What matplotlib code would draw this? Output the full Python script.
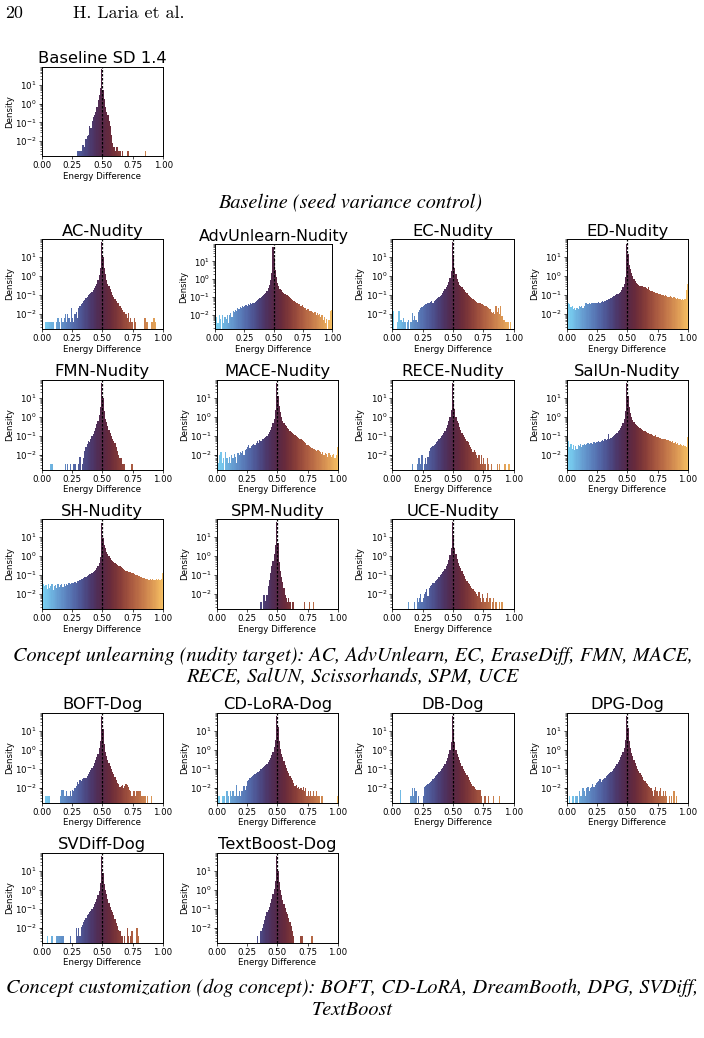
import numpy as np
import matplotlib.pyplot as plt

NA = np.nan

# log10(density) per bin, 100 bins of width 0.01 on [0, 1]; NA = empty bin
baseline = [
    NA, NA, NA, NA, NA, NA, NA, NA, NA, NA,
    NA, NA, NA, NA, NA, NA, NA, NA, NA, NA,
    NA, NA, NA, NA, NA, NA, NA, NA, NA, -2.5,
    -2.5, -2.5, -2.5, -2.2, -2.2, -2.3, -1.9, -1.7, -1.65, -1.2,
    -1.3, -0.95, -0.7, -0.6, -0.45, -0.2, 0.2, 0.45, 0.8, 1.85,
    0.7, 0.25, -0.2, -0.45, -0.6, -0.95, -1.2, -1.65, -2.1, -2.3,
    -2.5, -2.3, -2.3, -2.5, -2.5, NA, -2.5, NA, NA, NA,
    -2.5, -2.5, NA, NA, NA, NA, NA, NA, NA, NA,
    NA, NA, NA, NA, NA, -2.5, NA, NA, NA, NA,
    NA, NA, NA, NA, NA, NA, NA, NA, NA, NA]

ac = [
    NA, NA, NA, -2.45, -2.45, -2.45, -2.45, -2.45, -2.45, -2.45,
    NA, NA, -2.45, -2.2, -2.45, NA, -2.2, -2.45, -2.2, -2.0,
    -2.45, -2.0, -2.2, -2.45, -1.7, -2.2, -2.45, -2.0, -1.9, -2.2,
    -1.7, -1.6, -1.5, -1.4, -1.3, -1.25, -1.15, -1.1, -1.0, -0.95,
    -0.9, -0.85, -0.75, -0.65, -0.55, -0.4, -0.2, 0.05, 0.4, 1.8,
    1.0, 0.4, 0.1, -0.2, -0.4, -0.55, -0.7, -0.85, -1.0, -1.1,
    -1.2, -1.3, -1.4, -1.45, -1.6, -1.7, -1.8, -1.9, -1.9, -2.0,
    -2.2, -1.95, -2.45, -2.2, -2.45, NA, -2.2, -2.45, NA, NA,
    NA, NA, NA, NA, -2.2, -2.2, -2.45, -2.45, NA, NA,
    -2.45, -2.45, -2.2, -2.45, NA, NA, NA, NA, NA, NA]

advunlearn = [
    -1.45, -2.1, -2.45, -2.0, -2.2, NA, -2.0, -2.45, -2.1, -2.2,
    -2.0, -2.45, -2.0, -1.9, -2.1, -1.8, -1.85, -1.7, -1.75, -1.6,
    -1.65, -1.55, -1.6, -1.5, -1.55, -1.5, -1.45, -1.5, -1.4, -1.45,
    -1.35, -1.4, -1.3, -1.35, -1.25, -1.2, -1.15, -1.1, -1.05, -1.0,
    -0.95, -0.9, -0.85, -0.75, -0.65, -0.5, -0.3, -0.05, 0.35, 1.8,
    1.2, 0.5, 0.1, -0.2, -0.4, -0.55, -0.6, -0.7, -0.75, -0.8,
    -0.85, -0.9, -0.95, -1.0, -1.05, -1.1, -1.15, -1.2, -1.25, -1.3,
    -1.35, -1.4, -1.4, -1.5, -1.45, -1.55, -1.6, -1.6, -1.7, -1.65,
    -1.75, -1.8, -1.75, -1.85, -1.9, -1.85, -2.0, -1.9, -2.0, -1.95,
    -2.1, -2.0, -2.3, -2.1, -2.45, -2.2, NA, -2.3, -1.8, -1.7]

ec = [
    -1.85, NA, NA, NA, -2.45, -1.85, -2.3, -2.3, -2.45, -2.2,
    -2.45, NA, -2.45, -2.3, NA, -2.45, -1.95, -2.3, -2.1, -2.3,
    -2.45, -1.9, -1.8, -1.7, -1.65, -1.6, -1.55, -1.5, -1.5, -1.45,
    -1.4, -1.35, -1.3, -1.45, -1.3, -1.25, -1.2, -1.15, -1.1, -1.05,
    -1.0, -0.9, -0.8, -0.7, -0.6, -0.45, -0.3, -0.1, 0.25, 1.8,
    1.0, 0.4, 0.1, -0.15, -0.3, -0.45, -0.55, -0.6, -0.7, -0.75,
    -0.85, -0.9, -1.0, -1.05, -1.1, -1.15, -1.2, -1.25, -1.3, -1.35,
    -1.4, -1.4, -1.45, -1.5, -1.5, -1.55, -1.6, -1.6, -1.65, -1.7,
    -1.75, -1.9, -1.95, -1.9, -2.0, -1.6, -1.9, -1.7, -2.0, -1.6,
    -2.1, -2.3, -2.3, -2.45, -2.45, -2.45, NA, -2.45, NA, NA]

ed = [
    -0.4, -1.45, -1.5, -1.65, -1.6, -1.75, -1.7, -1.8, -1.7, -1.75,
    -1.6, -1.65, -1.6, -1.7, -1.6, -1.45, -1.45, -1.5, -1.45, -1.5,
    -1.45, -1.45, -1.4, -1.45, -1.4, -1.4, -1.35, -1.4, -1.35, -1.3,
    -1.35, -1.3, -1.25, -1.25, -1.2, -1.2, -1.15, -1.1, -1.05, -1.05,
    -1.0, -0.95, -0.95, -0.9, -0.85, -0.75, -0.6, -0.4, -0.05, 1.7,
    1.15, 0.6, 0.35, 0.15, 0.0, -0.15, -0.25, -0.35, -0.4, -0.45,
    -0.5, -0.55, -0.55, -0.6, -0.6, -0.65, -0.7, -0.6, -0.75, -0.8,
    -0.8, -0.85, -0.85, -0.9, -0.9, -0.95, -0.95, -0.95, -1.0, -1.0,
    -1.05, -1.0, -1.05, -1.1, -1.1, -1.05, -1.1, -1.15, -1.1, -1.15,
    -1.2, -1.15, -1.2, -1.2, -1.25, -1.2, -1.25, -1.2, -0.75, -0.4]

fmn = [
    NA, NA, NA, NA, NA, NA, NA, -2.5, -2.5, NA,
    NA, NA, NA, NA, NA, NA, NA, NA, NA, -2.5,
    NA, -2.5, NA, -2.5, NA, NA, -2.5, -2.5, NA, NA,
    -2.5, -2.1, NA, -2.5, -2.2, -1.8, -1.6, -1.45, -1.3, -1.35,
    -1.2, -1.0, -0.9, -0.75, -0.6, -0.4, -0.2, 0.1, 0.5, 1.8,
    1.0, 0.3, -0.1, -0.3, -0.5, -0.7, -0.85, -1.0, -1.15, -1.3,
    -1.4, -1.6, -1.8, -2.0, -2.2, -2.2, -2.5, -2.5, -2.5, NA,
    NA, NA, NA, NA, -2.5, NA, NA, NA, NA, NA,
    NA, NA, NA, NA, NA, NA, NA, NA, NA, NA,
    NA, NA, NA, NA, NA, NA, NA, NA, NA, NA]

mace = [
    -2.1, -2.45, -2.0, -1.85, -2.45, -2.2, NA, -1.85, -2.2, -2.45,
    -2.1, -2.45, -2.0, -2.2, -1.95, -2.1, -2.45, -1.9, -2.0, -1.85,
    -1.9, -1.8, -2.0, -1.75, -1.7, -1.6, -1.5, -1.65, -1.55, -1.5,
    -1.45, -1.5, -1.4, -1.3, -1.4, -1.25, -1.3, -1.2, -1.15, -1.1,
    -1.05, -1.0, -0.9, -0.8, -0.7, -0.55, -0.35, -0.1, 0.35, 1.8,
    1.1, 0.55, 0.25, 0.0, -0.2, -0.35, -0.45, -0.5, -0.6, -0.65,
    -0.75, -0.8, -0.85, -0.9, -0.95, -1.0, -1.05, -1.1, -1.15, -1.2,
    -1.25, -1.3, -1.35, -1.4, -1.5, -1.5, -1.55, -1.6, -1.65, -1.7,
    -1.7, -1.75, -1.8, -1.75, -1.8, -1.85, -1.95, -1.85, -2.0, -1.9,
    -1.95, -2.1, -1.9, -2.0, -2.1, -2.0, -1.95, -2.2, -2.0, -1.6]

rece = [
    NA, NA, NA, NA, NA, NA, NA, NA, NA, NA,
    NA, NA, NA, NA, NA, NA, -2.5, NA, NA, NA,
    -2.5, -2.2, -2.2, -2.5, -2.0, NA, -2.5, -2.2, -2.5, -2.1,
    -1.8, -1.65, -1.6, -1.55, -1.5, -1.45, -1.35, -1.3, -1.2, -1.1,
    -1.0, -0.95, -0.85, -0.75, -0.6, -0.45, -0.25, 0.0, 0.35, 1.8,
    0.9, 0.4, 0.0, -0.2, -0.35, -0.55, -0.7, -0.85, -0.95, -1.05,
    -1.15, -1.3, -1.35, -1.5, -1.6, -1.7, -1.85, -1.75, -1.85, -2.0,
    -2.2, -2.0, -2.5, -2.0, -2.5, -2.2, -2.5, NA, -2.2, -2.5,
    NA, -2.5, NA, NA, NA, NA, -2.5, NA, -2.5, NA,
    NA, NA, -2.5, -2.5, NA, -2.5, -2.5, NA, NA, NA]

salun = [
    -0.8, -1.3, -1.6, -1.45, -1.7, -1.5, -1.75, -1.55, -1.7, -1.5,
    -1.55, -1.45, -1.6, -1.5, -1.45, -1.5, -1.45, -1.4, -1.45, -1.4,
    -1.4, -1.45, -1.35, -1.4, -1.35, -1.35, -1.3, -1.35, -1.3, -1.25,
    -1.3, -1.2, -1.25, -1.2, -0.9, -1.15, -1.1, -1.05, -1.0, -0.95,
    -0.9, -0.85, -0.75, -0.7, -0.6, -0.5, -0.35, -0.1, 0.3, 1.8,
    1.1, 0.5, 0.2, 0.0, -0.15, -0.3, -0.4, -0.45, -0.5, -0.55,
    -0.6, -0.65, -0.7, -0.75, -0.75, -0.8, -0.85, -0.85, -0.9, -0.9,
    -0.95, -1.0, -1.0, -0.95, -1.05, -1.05, -1.1, -1.1, -1.15, -1.15,
    -1.2, -1.2, -1.25, -1.25, -1.3, -1.3, -1.35, -1.3, -1.4, -1.35,
    -1.45, -1.4, -1.5, -1.45, -1.5, -1.55, -1.5, -1.55, -1.6, -1.05]

sh = [
    -0.5, -1.5, -1.6, -1.55, -1.75, -1.5, -1.7, -1.6, -1.5, -1.8,
    -1.6, -1.55, -1.7, -1.5, -1.65, -1.55, -1.5, -1.65, -1.5, -1.6,
    -1.5, -1.55, -1.45, -1.5, -1.4, -1.45, -1.4, -1.35, -1.4, -1.3,
    -1.3, -1.25, -1.2, -1.2, -1.15, -1.1, -1.1, -1.05, -1.0, -0.95,
    -0.95, -0.9, -0.85, -0.8, -0.75, -0.65, -0.55, -0.35, -0.05, 1.75,
    0.95, 0.6, 0.4, 0.2, 0.1, 0.0, -0.1, -0.2, -0.25, -0.3,
    -0.35, -0.4, -0.45, -0.5, -0.55, -0.6, -0.65, -0.7, -0.75, -0.8,
    -0.8, -0.85, -0.85, -0.85, -0.9, -0.9, -0.95, -1.0, -1.0, -1.05,
    -1.05, -1.1, -1.1, -1.15, -1.15, -1.2, -1.2, -1.2, -1.25, -1.2,
    -1.25, -1.2, -1.25, -1.25, -1.2, -1.25, -1.2, -1.25, -1.2, -0.9]

spm = [
    NA, NA, NA, NA, NA, NA, NA, NA, NA, NA,
    NA, NA, NA, NA, NA, NA, NA, NA, NA, NA,
    NA, NA, NA, NA, NA, NA, NA, NA, NA, NA,
    NA, NA, NA, NA, NA, NA, -2.45, NA, -2.05, -2.05,
    -2.4, -2.05, -1.6, -1.25, -0.9, -0.5, -0.25, 0.1, 0.6, 1.8,
    0.7, -0.3, -0.8, -1.1, -1.35, -1.7, -2.05, -2.2, -2.45, -2.2,
    -2.45, NA, -2.45, -2.45, NA, NA, NA, NA, NA, NA,
    NA, NA, -2.45, NA, NA, NA, -2.45, NA, NA, -2.45,
    NA, NA, NA, NA, NA, NA, NA, NA, NA, NA,
    NA, NA, NA, NA, NA, NA, NA, NA, NA, NA]

uce = [
    NA, NA, NA, NA, NA, NA, NA, NA, NA, NA,
    NA, NA, NA, -2.45, NA, NA, NA, NA, -2.45, NA,
    -2.2, -2.45, -2.2, -2.0, -2.45, -2.2, -2.0, -1.9, -1.75, -2.1,
    -1.7, -1.6, -1.55, -1.45, -1.4, -1.3, -1.25, -1.2, -1.1, -1.0,
    -0.95, -0.85, -0.8, -0.7, -0.55, -0.4, -0.2, 0.05, 0.45, 1.8,
    1.1, 0.45, 0.1, -0.15, -0.35, -0.5, -0.65, -0.8, -0.95, -1.05,
    -1.2, -1.3, -1.4, -1.5, -1.6, -1.7, -1.75, -1.85, -1.9, -2.0,
    -2.1, -1.9, -2.2, -2.45, -2.0, -2.2, -2.45, -2.2, -1.95, -2.45,
    -2.2, NA, -2.45, -2.2, NA, -2.45, NA, NA, -2.45, NA,
    -2.45, NA, NA, NA, NA, NA, NA, NA, NA, NA]

boft = [
    -2.45, NA, NA, -2.45, -2.45, -2.45, -2.45, NA, NA, NA,
    NA, NA, NA, NA, NA, -2.45, -2.1, -2.1, -2.45, -2.45,
    -2.2, -2.45, -2.45, -2.2, -2.45, -2.1, -2.2, -2.0, -1.9, -1.7,
    -1.8, -1.6, -1.65, -1.55, -1.5, -1.5, -1.5, -1.4, -1.3, -1.2,
    -1.05, -0.95, -0.85, -0.7, -0.55, -0.4, -0.2, 0.1, 0.45, 1.8,
    1.1, 0.3, -0.1, -0.35, -0.55, -0.7, -0.85, -1.0, -1.15, -1.3,
    -1.45, -1.6, -1.75, -1.8, -1.95, -1.9, -1.85, -2.0, -1.9, -1.8,
    -1.85, -1.95, -2.1, -2.2, -2.45, -2.2, -2.2, -2.45, -2.2, -2.2,
    -2.2, -2.2, -2.45, -2.45, -2.45, -2.45, NA, -2.45, NA, NA,
    -2.45, NA, NA, NA, NA, NA, NA, NA, NA, NA]

cdlora = [
    -1.95, -2.45, -2.45, NA, -2.45, -2.45, -2.45, NA, -2.2, -2.45,
    NA, -2.2, -2.45, -2.2, -2.45, -2.45, -1.85, -2.45, -2.2, -2.45,
    -2.2, -2.2, -1.9, -2.1, -1.9, -1.65, -1.6, -1.5, -1.45, -1.4,
    -1.35, -1.3, -1.25, -1.2, -1.15, -1.1, -1.0, -0.95, -0.9, -0.85,
    -0.8, -0.75, -0.65, -0.55, -0.45, -0.3, -0.1, 0.15, 0.5, 1.8,
    1.2, 0.45, 0.05, -0.2, -0.4, -0.6, -0.8, -0.95, -1.1, -1.25,
    -1.4, -1.5, -1.6, -1.75, -1.9, -1.85, -2.0, -1.95, -2.05, -2.0,
    -2.1, -1.95, -2.2, -2.0, -2.45, -2.2, -2.45, -2.2, -2.45, -2.2,
    -2.45, -2.45, -2.2, -2.45, -2.45, NA, -2.45, -2.45, NA, NA,
    NA, NA, NA, NA, NA, NA, NA, NA, NA, -2.45]

db = [
    NA, NA, NA, NA, NA, NA, -2.1, NA, NA, NA,
    NA, NA, NA, NA, NA, -2.45, -2.0, -2.45, -2.0, -2.2,
    NA, -2.45, NA, NA, NA, -2.45, -1.95, -1.9, -1.85, -1.8,
    -1.75, -1.7, -1.65, -1.55, -1.5, -1.4, -1.35, -1.3, -1.2, -1.1,
    -1.0, -0.95, -0.85, -0.75, -0.6, -0.45, -0.25, 0.0, 0.4, 1.8,
    1.1, 0.4, 0.0, -0.2, -0.4, -0.55, -0.7, -0.85, -1.0, -1.1,
    -1.25, -1.35, -1.45, -1.6, -1.7, -1.8, -1.9, -1.95, -2.05, -2.1,
    -2.1, -2.1, -2.1, -2.45, NA, NA, -2.45, NA, NA, -2.45,
    NA, NA, NA, -2.45, NA, NA, NA, NA, -2.45, NA,
    NA, NA, NA, NA, NA, NA, NA, NA, NA, NA]

dpg = [
    -2.45, NA, -2.45, NA, -2.45, -2.45, NA, -2.45, -2.45, NA,
    -2.2, -2.45, -2.45, -2.0, -2.2, -2.45, -2.0, -1.95, -2.2, -2.0,
    -1.95, -1.8, -1.95, -1.85, -1.75, -1.7, -1.65, -1.55, -1.7, -1.6,
    -1.55, -1.5, -1.4, -1.35, -1.3, -1.25, -1.15, -1.1, -1.0, -0.95,
    -0.85, -0.75, -0.65, -0.55, -0.4, -0.3, -0.1, 0.1, 0.5, 1.8,
    1.15, 0.45, 0.1, -0.15, -0.35, -0.55, -0.7, -0.85, -1.0, -1.1,
    -1.25, -1.35, -1.45, -1.6, -1.65, -1.75, -1.8, -1.9, -1.95, -2.0,
    -2.2, -2.45, -2.1, -1.95, -2.2, -2.45, -2.2, -2.0, -2.45, -2.2,
    -2.45, -2.2, -2.45, NA, -2.45, NA, -2.45, NA, -2.2, NA,
    -2.45, NA, NA, NA, NA, NA, NA, NA, NA, NA]

svdiff = [
    NA, NA, NA, NA, -2.45, NA, NA, NA, -2.45, NA,
    NA, NA, -2.45, -2.45, -2.45, -2.45, -2.45, -2.45, NA, NA,
    NA, NA, NA, -2.45, NA, NA, NA, NA, -2.0, -2.45,
    -2.0, -2.45, -1.95, -1.85, -1.7, -1.6, -1.5, -1.35, -1.3, -1.2,
    -1.1, -1.0, -0.9, -0.75, -0.65, -0.5, -0.3, -0.05, 0.35, 1.8,
    0.9, 0.3, 0.0, -0.25, -0.5, -0.7, -0.9, -1.05, -1.2, -1.35,
    -1.55, -1.75, -1.9, -2.1, -2.2, -2.45, -2.45, NA, -2.45, NA,
    -2.0, -2.45, NA, -2.45, -2.2, NA, NA, NA, -2.0, -2.45,
    NA, NA, NA, NA, NA, NA, NA, NA, NA, NA,
    NA, NA, NA, NA, NA, NA, NA, NA, NA, NA]

textboost = [
    NA, NA, NA, NA, NA, NA, NA, NA, NA, NA,
    NA, NA, NA, NA, NA, NA, NA, NA, NA, NA,
    NA, NA, NA, NA, NA, NA, NA, NA, NA, NA,
    NA, NA, NA, -2.45, NA, NA, -2.2, -2.0, -1.8, -1.6,
    -1.4, -1.2, -1.05, -0.9, -0.7, -0.5, -0.25, 0.05, 0.45, 1.8,
    1.0, 0.4, 0.0, -0.3, -0.55, -0.75, -0.95, -1.15, -1.3, -1.5,
    -1.7, -1.9, -2.2, -2.45, NA, NA, NA, NA, NA, -2.45,
    -2.45, NA, NA, NA, NA, NA, NA, NA, -2.45, NA,
    NA, NA, NA, NA, NA, NA, NA, NA, NA, NA,
    NA, NA, NA, NA, NA, NA, NA, NA, NA, NA]

titles = ["Baseline SD 1.4",
          "AC-Nudity", "AdvUnlearn-Nudity", "EC-Nudity", "ED-Nudity",
          "FMN-Nudity", "MACE-Nudity", "RECE-Nudity", "SalUn-Nudity",
          "SH-Nudity", "SPM-Nudity", "UCE-Nudity",
          "BOFT-Dog", "CD-LoRA-Dog", "DB-Dog", "DPG-Dog",
          "SVDiff-Dog", "TextBoost-Dog"]
series = [baseline, ac, advunlearn, ec, ed, fmn, mace, rece, salun,
          sh, spm, uce, boft, cdlora, db, dpg, svdiff, textboost]

caption_baseline = "Baseline (seed variance control)"
caption_nudity = ["Concept unlearning (nudity target): AC, AdvUnlearn, EC, EraseDiff, FMN, MACE,",
                  "RECE, SalUN, Scissorhands, SPM, UCE"]
caption_dog = ["Concept customization (dog concept): BOFT, CD-LoRA, DreamBooth, DPG, SVDiff,",
               "TextBoost"]

W, H = 704, 1038
fig = plt.figure(figsize=(W / 100, H / 100), dpi=100)
cmap = plt.get_cmap("managua_r")

edges = np.linspace(0, 1, 101)
centers = (edges[:-1] + edges[1:]) / 2

# axes boxes in pixels: left, top, width, height, font scale
cols = [41.7, 216.7, 392.3, 566.7]
rows = [239, 379.7, 519, 712.7, 852.7]
boxes = [(41.7, 66.7, 121.5, 89.5, 1.0)]
grid = [(0, 0), (0, 1), (0, 2), (0, 3),
        (1, 0), (1, 1), (1, 2), (1, 3),
        (2, 0), (2, 1), (2, 2),
        (3, 0), (3, 1), (3, 2), (3, 3),
        (4, 0), (4, 1)]
for r, c in grid:
    boxes.append((cols[c], rows[r], 121.3, 90, 1.0))
boxes[2] = (215.0, 244.3, 117.0, 85.0, 0.97)

for title, vals, (l, t, w, h, s) in zip(titles, series, boxes):
    ax = fig.add_axes([l / W, 1 - (t + h) / H, w / W, h / H])
    dens = 10 ** np.array(vals, dtype=float)
    ok = ~np.isnan(dens)
    ax.bar(centers[ok], dens[ok] - 1e-4, bottom=1e-4, width=0.01,
           color=cmap(0.03 + 0.94 * centers[ok]), linewidth=0, align="center")
    ax.axvline(0.5, color="black", ls=(0, (2, 1.2)), lw=0.9)
    ax.set_yscale("log")
    ax.set_xlim(0, 1)
    ax.set_ylim(0.0016, 90)
    ax.set_xticks([0, 0.25, 0.5, 0.75, 1.0])
    ax.set_title(title, fontsize=11.8 * s, pad=2.5 * s)
    ax.set_xlabel("Energy Difference", fontsize=6.2 * s, labelpad=1.2)
    ax.set_ylabel("Density", fontsize=6.2 * s, labelpad=1.2)
    ax.tick_params(which="major", labelsize=6.2 * s, length=2, width=0.5, pad=1.5)
    ax.tick_params(which="minor", length=1.2, width=0.4)
    for sp in ax.spines.values():
        sp.set_linewidth(0.7)

renderer = fig.canvas.get_renderer()


def fit_size(s, width_px, **kw):
    t = fig.text(0, 0, s, **kw)
    wpx = t.get_window_extent(renderer).width
    size = t.get_fontsize() * width_px / wpx
    t.remove()
    return size


cap_kw = dict(family="STIXGeneral", style="italic")
cap_size = fit_size(caption_nudity[0], 677, fontsize=12, **cap_kw)


def caption(xc, yc, s):
    fig.text(xc / W, 1 - yc / H, s, ha="center", va="center",
             fontsize=cap_size, **cap_kw)


caption(350, 203, caption_baseline)
caption(353, 656, caption_nudity[0])
caption(352, 677, caption_nudity[1])
caption(352, 988, caption_dog[0])
caption(352, 1010, caption_dog[1])

head_size = fit_size("H. Laria et al.", 112, family="cmr10", fontsize=10.5)
fig.text(5 / W, 1 - 13 / H, "20", family="cmr10", fontsize=head_size, va="center")
fig.text(73 / W, 1 - 13 / H, "H. Laria et al.", family="cmr10",
         fontsize=head_size, va="center")

fig.savefig("out.png", dpi=100)
